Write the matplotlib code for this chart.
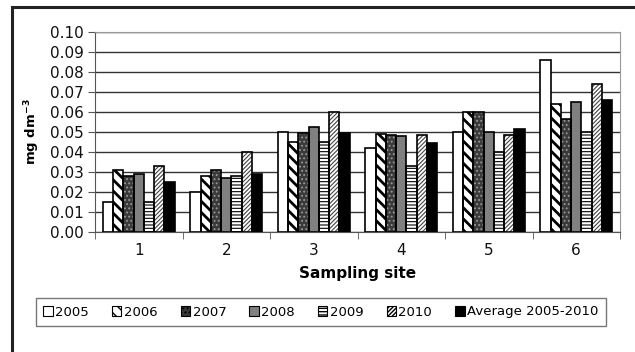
import numpy as np
import matplotlib
matplotlib.use('Agg')
import matplotlib.pyplot as plt
from matplotlib.patches import Rectangle

plt.rcParams['font.family'] = ['DejaVu Sans']

sites = ['1', '2', '3', '4', '5', '6']
labels = ['2005', '2006', '2007', '2008', '2009', '2010', 'Average 2005-2010']
y2005 = [0.015, 0.020, 0.050, 0.042, 0.050, 0.086]
y2006 = [0.031, 0.028, 0.045, 0.049, 0.060, 0.064]
y2007 = [0.028, 0.031, 0.0495, 0.0485, 0.060, 0.0565]
y2008 = [0.029, 0.027, 0.0525, 0.048, 0.050, 0.065]
y2009 = [0.015, 0.028, 0.045, 0.033, 0.040, 0.050]
y2010 = [0.033, 0.040, 0.060, 0.0485, 0.0485, 0.074]
yavg = [0.025, 0.029, 0.0495, 0.0447, 0.0515, 0.066]
series = [y2005, y2006, y2007, y2008, y2009, y2010, yavg]

# face colour, hatch, hatch colour, hatch linewidth
styles = [
    ('white', None, 'black', 1.0),
    ('white', '\\\\\\', 'black', 2.0),
    ('#3a3a3a', '....', '#9a9a9a', 0.8),
    ('#808080', None, 'black', 1.0),
    ('white', '-----', 'black', 0.8),
    ('white', '////////', '#444444', 0.8),
    ('black', None, 'black', 1.0),
]

fig = plt.figure(figsize=(6.35, 3.52), dpi=100)
ax = fig.add_axes([95/635, 1-232/352, 525/635, 200/352])

x = np.arange(len(sites))
w = 1/8.5
for i, (vals, (fc, h, hc, hlw)) in enumerate(zip(series, styles)):
    pos = x - 3*w + i*w
    with plt.rc_context({'hatch.linewidth': hlw}):
        ax.bar(pos, vals, w, color=fc, hatch=h, edgecolor=hc, linewidth=0, zorder=3)
    ax.bar(pos, vals, w, fill=False, edgecolor='black', linewidth=1.2, zorder=4)

ax.set_xlim(-0.5, 5.5)
ax.set_ylim(0, 0.10)
ax.set_yticks(np.arange(0, 0.101, 0.01))
ax.set_yticklabels(['%.2f' % v for v in np.arange(0, 0.101, 0.01)], fontsize=11, color='#111111')
ax.set_xticks(x)
ax.set_xticklabels(sites, fontsize=11, color='#111111')
ax.tick_params(axis='x', length=0, pad=8)
ax.set_xticks(np.arange(-0.5, 6, 1), minor=True)
ax.tick_params(axis='x', which='minor', length=5, color='#555555')
ax.tick_params(axis='y', length=5, color='#555555', pad=3)
ax.grid(axis='y', color='#333333', linewidth=1, zorder=0)
for s in ['top', 'right']:
    ax.spines[s].set_color('#999999')
for s in ['left', 'bottom']:
    ax.spines[s].set_color('#555555')
ax.set_xlabel('Sampling site', fontsize=11, fontweight='bold', labelpad=6)
ax.set_ylabel('mg dm$^{\\mathbf{-3}}$', fontsize=9.5, fontweight='bold', labelpad=6)

handles = []
for fc, h, hc, hlw in styles:
    with plt.rc_context({'hatch.linewidth': 0.8}):
        handles.append(Rectangle((0, 0), 1, 1, facecolor=fc, hatch=h, edgecolor='black', linewidth=0.8))
leg = fig.legend(handles, labels, loc='center', bbox_to_anchor=(321/635, 1-312/352),
                 ncol=7, fontsize=9.5, frameon=True, fancybox=False, handlelength=0.7,
                 handleheight=0.7, handletextpad=0.2, columnspacing=1.75, borderpad=0.6)
leg.get_frame().set_edgecolor('#555555')
leg.get_frame().set_linewidth(1)

fig.patches.append(Rectangle((12/635, -0.1), 1.1, 1.1 - 7/352, transform=fig.transFigure,
                             fill=False, edgecolor='#222222', linewidth=2.2))

fig.savefig('out.png', dpi=100)
